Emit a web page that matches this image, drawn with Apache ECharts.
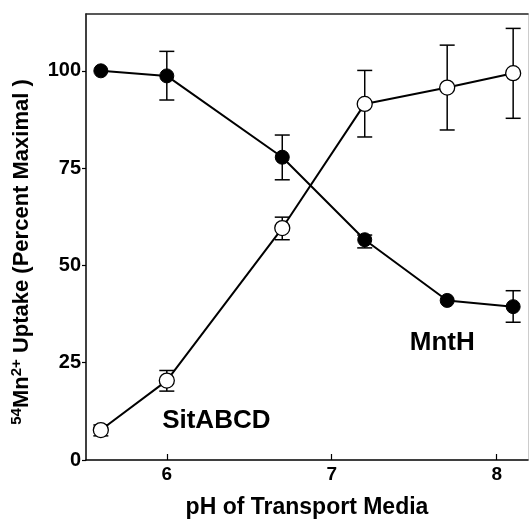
<!DOCTYPE html>
<html>
<head>
<meta charset="utf-8">
<script src="https://cdn.jsdelivr.net/npm/echarts@6/dist/echarts.min.js"></script>
<style>html,body{margin:0;padding:0;background:#fff}#c{width:530px;height:521px}</style>
</head>
<body>
<div id="c"></div>
<script>
// Data (pH of transport media)
var ph = [5.6, 6.0, 6.7, 7.2, 7.7, 8.1];
// MntH (filled circles)
var mnthMean = [100, 98.7, 77.8, 56.6, 41.0, 39.4];
var mnthLow  = [null, 92.5, 72.0, 54.5, null, 35.4];
var mnthHigh = [null, 105.0, 83.5, 57.8, null, 43.5];
// SitABCD (open circles)
var sitMean = [7.7, 20.4, 59.6, 91.5, 95.7, 99.4];
var sitLow  = [6.2, 17.7, 56.6, 83.0, 84.8, 87.8];
var sitHigh = [9.0, 23.0, 62.4, 100.1, 106.6, 110.9];
// Tick labels
var xTicks = [6, 7, 8];
var yTicks = [0, 25, 50, 75, 100];
// Series annotations [pH, value, text]
var annotations = [[7.67, 30.1, 'MntH'], [6.30, 10.0, 'SitABCD']];

var FONT = '"Liberation Sans", Arial, Helvetica, sans-serif';

function pairs(m) { return ph.map(function (x, i) { return [x, m[i]]; }); }
function errData(lo, hi) {
  var out = [];
  ph.forEach(function (x, i) { if (lo[i] != null && hi[i] != null) out.push([x, lo[i], hi[i]]); });
  return out;
}
function errRender(params, api) {
  var x = api.value(0);
  var p1 = api.coord([x, api.value(1)]);
  var p2 = api.coord([x, api.value(2)]);
  var w = 7.5;
  var st = { stroke: '#000', lineWidth: 1.5 };
  return {
    type: 'group',
    children: [
      { type: 'line', shape: { x1: p1[0], y1: p1[1], x2: p2[0], y2: p2[1] }, style: st },
      { type: 'line', shape: { x1: p1[0] - w, y1: p1[1], x2: p1[0] + w, y2: p1[1] }, style: st },
      { type: 'line', shape: { x1: p2[0] - w, y1: p2[1], x2: p2[0] + w, y2: p2[1] }, style: st }
    ]
  };
}

var chart = echarts.init(document.getElementById('c'), null, { renderer: 'canvas' });
chart.setOption({
  animation: false,
  backgroundColor: '#fff',
  grid: { left: 86, right: 2, top: 14, bottom: 61, containLabel: false, outerBoundsMode: 'none' },
  xAxis: [{
    type: 'value', min: 5.51, max: 8.19,
    axisLine: { onZero: false, lineStyle: { color: '#000', width: 1.5 } },
    axisTick: { inside: true, length: 6, customValues: xTicks, lineStyle: { color: '#000', width: 1.2 } },
    axisLabel: { customValues: xTicks, color: '#000', fontFamily: FONT, fontWeight: 'bold', fontSize: 19, margin: 5 },
    splitLine: { show: false },
    name: 'pH of Transport Media', nameLocation: 'middle', nameGap: 36,
    nameTextStyle: { color: '#000', fontFamily: FONT, fontWeight: 'bold', fontSize: 23 }
  }, {
    type: 'value', position: 'top', min: 5.51, max: 8.19,
    axisLine: { show: true, onZero: false, lineStyle: { color: '#222', width: 1.5 } },
    axisTick: { show: false }, axisLabel: { show: false }, splitLine: { show: false }
  }],
  yAxis: [{
    type: 'value', min: 0, max: 114.6,
    axisLine: { show: true, onZero: false, lineStyle: { color: '#000', width: 1.5 } },
    axisTick: { inside: false, length: 4, customValues: yTicks, lineStyle: { color: '#000', width: 1.2 } },
    axisLabel: { customValues: yTicks, color: '#000', fontFamily: FONT, fontWeight: 'bold', fontSize: 20, margin: 5 },
    splitLine: { show: false },
    name: '{sup|54}Mn{sup|2+} Uptake (Percent Maximal )', nameLocation: 'middle', nameGap: 52, nameRotate: 90,
    nameTextStyle: {
      color: '#000', fontFamily: FONT, fontWeight: 'bold', fontSize: 22, padding: [0, 30, 0, 0],
      rich: {
        sup: { fontFamily: FONT, fontWeight: 'bold', fontSize: 15, verticalAlign: 'top', padding: [0, 0, 10, 0], color: '#000' }
      }
    }
  }, {
    type: 'value', position: 'right', min: 0, max: 114.6,
    axisLine: { show: true, onZero: false, lineStyle: { color: '#ccc', width: 1 } },
    axisTick: { show: false }, axisLabel: { show: false }, splitLine: { show: false }
  }],
  series: [
    { type: 'custom', name: 'mnthErr', renderItem: errRender, data: errData(mnthLow, mnthHigh), z: 1, silent: true },
    { type: 'custom', name: 'sitErr', renderItem: errRender, data: errData(sitLow, sitHigh), z: 1, silent: true },
    {
      type: 'line', name: 'MntH', data: pairs(mnthMean), z: 3,
      symbol: 'circle', symbolSize: 14,
      lineStyle: { color: '#000', width: 2 },
      itemStyle: { color: '#000', borderColor: '#000', borderWidth: 1 }
    },
    {
      type: 'line', name: 'SitABCD', data: pairs(sitMean), z: 3,
      symbol: 'circle', symbolSize: 15,
      lineStyle: { color: '#000', width: 2 },
      itemStyle: { color: '#fff', borderColor: '#000', borderWidth: 1.3 }
    },
    {
      type: 'scatter', name: 'labels', symbolSize: 0, z: 4, silent: true,
      itemStyle: { opacity: 1 },
      data: annotations.map(function (a) { return { value: [a[0], a[1]], text: a[2] }; }),
      label: {
        show: true, position: 'inside', color: '#000', opacity: 1, fontFamily: FONT, fontWeight: 'bold', fontSize: 26,
        formatter: function (p) { return p.data.text; }
      }
    }
  ]
});
</script>
</body>
</html>
